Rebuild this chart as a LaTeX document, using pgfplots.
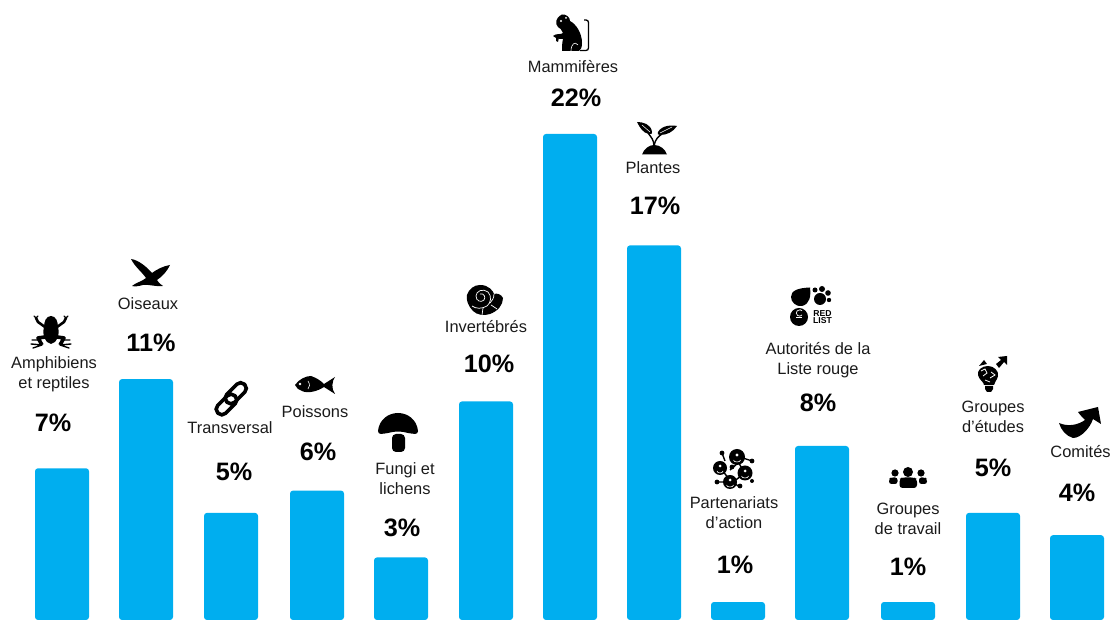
\documentclass[border=0pt]{standalone}
\usepackage{pgfplots}
\pgfplotsset{compat=1.18}
\usepackage{fontspec}
\setmainfont{Liberation Sans}
\definecolor{barblue}{HTML}{00AEEF}
\definecolor{ink}{HTML}{1A1A1A}
% group label: centre x, centre y, text
\newcommand{\grp}[3]{\node[text=ink,font=\fontsize{16.4}{20}\selectfont,align=center,inner sep=0pt] at (#1,#2) {#3};}
\newcommand{\pct}[3]{\node[text=black,font=\fontsize{25.2}{26}\selectfont\bfseries,inner sep=0pt] at (#1,#2) {#3\%};}
\begin{document}
\begin{tikzpicture}
\begin{axis}[
  scale only axis, width=1111pt, height=620pt,
  axis line style={draw=none}, xtick=\empty, ytick=\empty,
  xmin=0, xmax=1111, ymin=0.193, ymax=28.01,
  ybar, bar width=54pt,
]
\addplot[fill=barblue, draw=none, rounded corners=3pt] table[x=pos,y=share] {
pos share
62 7
146 11
231 5
317 6
401 3
486 10
570 22
654 17
738 1
822 8
908 1
993 5
1077 4
};
\end{axis}
% labels and icons are laid out in a top-down unit system
\begin{scope}[shift={(0,620pt)},x=1pt,y=-1pt]
\grp{54}{374.5}{Amphibiens\\et reptiles}\pct{53}{423}{7}
\grp{148}{304}{Oiseaux}\pct{151}{343}{11}
\grp{230}{428}{Transversal}\pct{234}{472}{5}
\grp{315}{412}{Poissons}\pct{318}{452}{6}
\grp{405}{479}{Fungi et\\lichens}\pct{402}{528}{3}
\grp{486}{327}{Invertébrés}\pct{489}{364}{10}
\grp{573}{67}{Mammifères}\pct{576}{98}{22}
\grp{653}{168}{Plantes}\pct{655}{206}{17}
\grp{734}{513}{Partenariats\\d'action}\pct{735}{565}{1}
\grp{818}{360}{Autorités de la\\Liste rouge}\pct{818}{403}{8}
\grp{908}{519}{Groupes\\de travail}\pct{908}{567}{1}
\grp{993}{417}{Groupes\\d'études}\pct{993}{468}{5}
\grp{1080.5}{452}{Comités}\pct{1077}{493}{4}

% frog
\fill[black] (51,316) .. controls (56,316) and (58,322) .. (58,327) .. controls (60,335) and (57,343) .. (51,344) .. controls (45,343) and (42,335) .. (44,327) .. controls (44,322) and (46,316) .. (51,316) -- cycle;
\draw[black,line width=2.6pt,line cap=round] (45,327)--(38,322)--(36,318) (57,327)--(64,322)--(66,318);
\draw[black,line width=1.2pt,line cap=round] (36,318)--(34,316) (36,318)--(38,316) (66,318)--(64,316) (66,318)--(68,316);
\draw[black,line width=3.6pt,line join=round] (45,337)--(38,338)--(42,345) (57,337)--(64,338)--(60,345);
\draw[black,line width=1.4pt,line cap=round] (42,345)--(31,344) (42,345)--(33,348) (38,340)--(32,340) (60,345)--(71,344) (60,345)--(69,348) (64,340)--(70,340);
% bird
\fill[black] (131,259) .. controls (138,260) and (146,266) .. (152,273) .. controls (156,270) and (163,266) .. (170,265) .. controls (168,270) and (162,277) .. (157,280) .. controls (159,283) and (161,285) .. (163,286) .. controls (156,287) and (148,284) .. (143,285) .. controls (139,286) and (135,287) .. (132,286) .. controls (135,283) and (143,281) .. (146,278) .. controls (142,272) and (135,267) .. (131,259) -- cycle;
% chain link
\draw[black,line width=3.6pt,rounded corners=5pt] (214.1,409.1) -- (221.9,416.9) -- (238.9,399.9) -- (231.1,392.1) -- cycle;
\draw[black,line width=3.6pt,rounded corners=5pt] (223.1,398.1) -- (230.9,405.9) -- (248.4,388.4) -- (240.6,380.6) -- cycle;
% fish
\fill[black] (295,385) .. controls (299,379) and (306,376) .. (311,376) .. controls (317,378) and (321,381) .. (324,384) -- (335,377) .. controls (332,381) and (331,389) .. (335,394) -- (324,387) .. controls (318,391) and (308,394) .. (302,391) .. controls (299,390) and (296,388) .. (295,385) -- cycle;
\fill[white] (300,384) circle (1.3);
\draw[white,line width=0.6pt] (308,381) .. controls (310,384) and (310,387) .. (308,389);
% mushroom
\fill[black] (378,431) .. controls (379,420) and (388,413) .. (398,413) .. controls (408,413) and (417,420) .. (418,431) .. controls (418,435) and (414,434) .. (408,433) .. controls (401,431) and (395,431) .. (388,433) .. controls (382,434) and (378,435) .. (378,431) -- cycle;
\fill[black,rounded corners=4pt] (392,434) -- (405,434) -- (405,452) -- (392,452) -- cycle;
% shell
\fill[black] (480,285) .. controls (489,285) and (493,291) .. (494,294) .. controls (497,293) and (501,294) .. (503,298) .. controls (503,305) and (498,311) .. (490,314) .. controls (484,316) and (477,315) .. (473,311) .. controls (468,306) and (466,300) .. (467,295) .. controls (469,289) and (474,285) .. (480,285) -- cycle;
\draw[white,line width=0.7pt] (480,294) .. controls (484,293) and (486,297) .. (484,300) .. controls (481,303) and (476,301) .. (476,296) .. controls (476,291) and (483,288) .. (488,292) .. controls (492,296) and (491,303) .. (487,306) .. controls (482,309) and (476,309) .. (472,306);
\draw[white,line width=0.7pt] (494,294) .. controls (494,298) and (492,301) .. (490,303) (483,308) -- (482,315) (491,305) -- (497,309);
% monkey
\fill[black] (562,14.5) .. controls (566,14) and (570,17) .. (570,21) .. controls (576,24) and (582,33) .. (582,43) .. controls (582,47) and (581,50) .. (579,51) -- (562,51) .. controls (562,47) and (562,43) .. (563,39) .. controls (561,40) and (558,38) .. (556,38) -- (553,36) .. controls (556,33) and (561,35) .. (563,33) .. controls (562,30) and (560,28) .. (558,27) .. controls (555,24) and (555,18) .. (562,14.5) -- cycle;
\draw[black,line width=1.3pt,rounded corners=2.5pt] (580,50.5) -- (588.5,50.5) -- (588.5,20) -- (584,20);
\fill[white] (561,21) circle (1.2) (566,18) circle (1);
\draw[white,line width=0.6pt] (571,51) .. controls (571,44) and (575,41) .. (578,45);
\fill[black] (556,36) -- (556,41) -- (558,42) -- (559,37) -- cycle;
% seedling
\fill[black] (642,154.5) .. controls (644,149) and (649,145) .. (654,145) .. controls (660,145) and (665,149) .. (667,154.5) -- cycle;
\draw[black,line width=1.4pt] (654,146) .. controls (654,140) and (651,137) .. (648,133);
\draw[black,line width=1.4pt] (654,146) .. controls (655,139) and (659,136) .. (662,134);
\fill[black] (637,122) .. controls (643,122) and (651,124) .. (652,132) .. controls (653,134) and (651,134) .. (649,134) .. controls (643,133) and (640,128) .. (637,122) -- cycle;
\fill[black] (677,126) .. controls (672,125) and (662,125) .. (658,132) .. controls (657,134) and (658,135) .. (660,135) .. controls (667,135) and (673,132) .. (677,126) -- cycle;
\draw[white,line width=0.5pt] (642,125) -- (650,132) (672,127) -- (660,133);
% network of partners
\draw[black,line width=1.4pt] (722,453)--(725,461) (743,458)--(752,461) (730,470)--(738,463) (745,473)--(738,462) (720,468)--(731,481) (745,473)--(733,482) (717,482)--(730,482) (738,486)--(733,482);
\fill[black] (737,457) circle (8) (720,468) circle (7) (745,473) circle (7.5) (730,482) circle (7);
\fill[black] (722,453) circle (2.4) (752,461) circle (2.4) (717,482) circle (2.4) (740,486) circle (2.4) (732,467) circle (2.4) (752,481) circle (2);
\fill[white] (737,455) circle (1.6) (720,466) circle (1.5) (745,471) circle (1.5) (730,480) circle (1.5);
\draw[white,line width=0.6pt] (733.5,460) arc (180:0:3.5 and 2) (717,471) arc (180:0:3 and 2) (741.5,476) arc (180:0:3.5 and 2) (726.5,485) arc (180:0:3.5 and 2);
% red list emblem
\fill[black] (810,287.5) .. controls (811,296) and (810,304) .. (802,306) .. controls (796,307) and (791,302) .. (791,297) .. controls (791,291) and (797,288) .. (810,287.5) -- cycle;
\fill[black] (820,299) circle (6) (815,290) circle (2.5) (822,289) circle (3) (828,293) circle (2.8) (829,300) circle (2.2);
\fill[black] (799,317) circle (9);
\draw[white,line width=0.7pt] (802,315) arc (40:320:3.2);
\draw[white,line width=0.7pt] (796,317) -- (802,317);
\node[font=\fontsize{8.6}{7.6}\selectfont\bfseries,align=center,inner sep=0pt,text=black] at (822.5,317) {RED\\LIST};
% people
\fill[black] (908,472) circle (5) (895,473) circle (3.6) (921,473) circle (3.6);
\fill[black,rounded corners=3pt] (899.5,488) -- (899.5,479) -- (902,477.5) -- (914,477.5) -- (917,479) -- (917,488) -- cycle;
\fill[black,rounded corners=2.5pt] (889,484) -- (889,479) -- (891,477.5) -- (897.5,477.5) -- (897.5,484) -- cycle;
\fill[black,rounded corners=2.5pt] (927,484) -- (927,479) -- (925,477.5) -- (919,477.5) -- (919,484) -- cycle;
% light bulb with globe and arrow
\fill[black] (988,366) .. controls (994,366) and (999,371) .. (998,376) .. controls (997,381) and (994,382) .. (994,385) -- (984,385) .. controls (984,382) and (979,380) .. (978,375) .. controls (977,370) and (982,366) .. (988,366) -- cycle;
\fill[black] (985,386) -- (993,386) -- (993,389) -- (991,392) -- (987,392) -- (985,389) -- cycle;
\fill[black] (996,364) -- (1001,360) -- (998,357) -- (1007,356) -- (1007,365) -- (1004,362) -- (999,368) -- cycle;
\draw[white,line width=0.8pt] (981,371) -- (985,369) -- (987,373) -- (983,376) (990,378) -- (995,375) -- (991,372) (985,380) -- (990,382);
\fill[black] (979,366) -- (984,360) -- (987,364) -- cycle;
% upward arrow
\fill[black] (1059,423) .. controls (1068,427) and (1078,425) .. (1085,420) .. controls (1083,418) and (1080,415) .. (1078,412) -- (1098,407) -- (1101,424) .. controls (1098,422) and (1096,421) .. (1093,419) .. controls (1090,428) and (1081,438) .. (1073,438) .. controls (1066,436) and (1061,430) .. (1059,423) -- cycle;
\end{scope}
\end{tikzpicture}
\end{document}
